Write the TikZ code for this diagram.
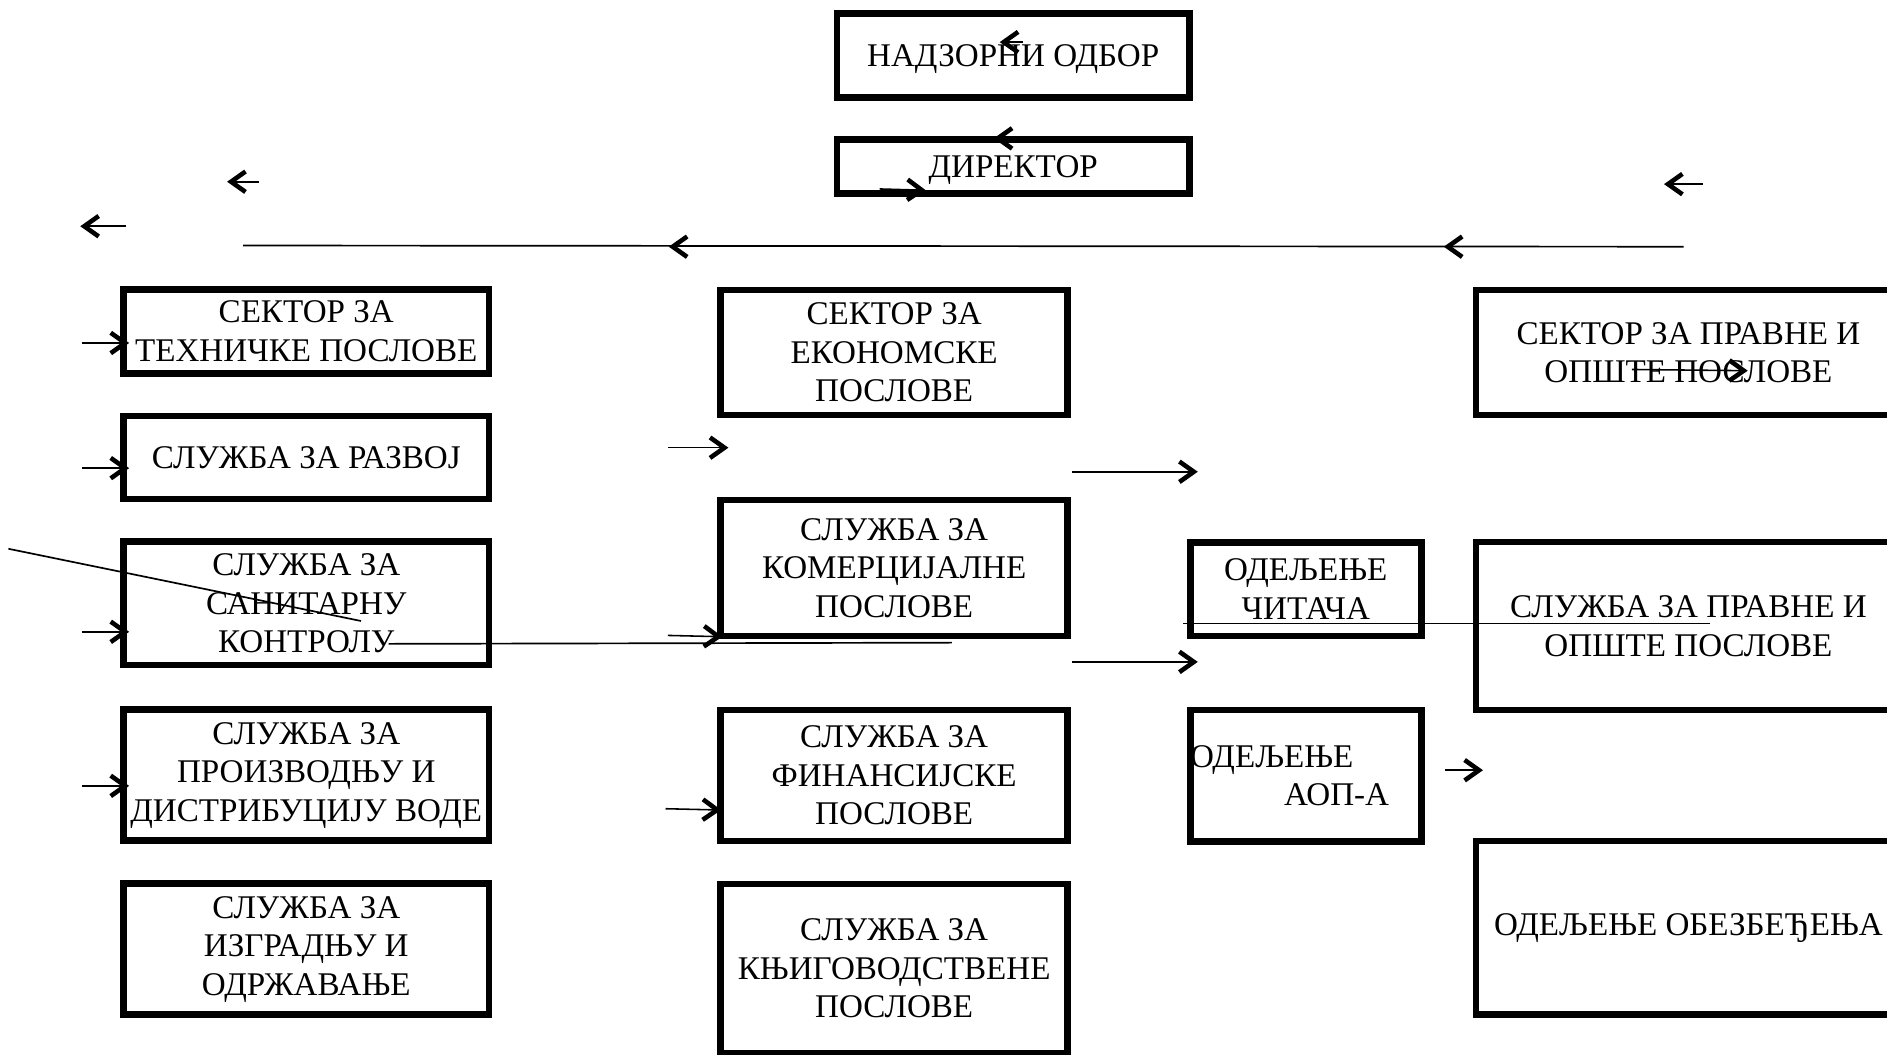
\documentclass[tikz,border=0pt]{standalone}
\usepackage{fontspec}
\setmainfont{Liberation Serif}
\usetikzlibrary{positioning}

\begin{document}
\begin{tikzpicture}[
		x=1pt, y=-1pt,
		node distance=30pt,
		every node/.style={font=\fontsize{27.5}{32}\selectfont},
		unit/.style={rectangle, draw, line width=5.5pt, align=center, inner sep=0pt},
		leftunit/.style={unit, minimum width=303.5pt},
		midunit/.style={unit, minimum width=288.5pt},
		deptunit/.style={unit, minimum width=192pt},
		rightunit/.style={unit, minimum width=353pt},
		barb/.pic={\draw[line width=3.8pt] (-12pt,8.5pt) -- (0pt,0pt) -- (-12pt,-8.5pt);},
		tip/.style={pos=1, sloped, allow upside down},
		link/.style={line width=1.4pt},
		pointer/.style={line width=1.3pt}
		]
		
		\path[use as bounding box] (0,0) rectangle (1568,876);
		\clip (0,0) rectangle (1568,876);
		
		% Management
		\node[unit, minimum width=293pt, minimum height=70pt, text depth=0pt] (board) at (841.9,46.1) {НАДЗОРНИ ОДБОР};
		\node[unit, minimum width=293pt, minimum height=45pt, text depth=0pt, below=29.2pt of board] (director) {ДИРЕКТОР};
		
		% Technical sector
		\node[leftunit, minimum height=69.5pt] (tech) at (254.5,275.4) {СЕКТОР ЗА\\ТЕХНИЧКЕ ПОСЛОВЕ};
		\node[leftunit, minimum height=69pt, below=of tech] (develop) {СЛУЖБА ЗА РАЗВОЈ};
		\node[leftunit, minimum height=102.5pt, below=of develop] (sanitary) {СЛУЖБА ЗА\\САНИТАРНУ\\КОНТРОЛУ};
		\node[leftunit, minimum height=109pt, below=31.5pt of sanitary] (water) {СЛУЖБА ЗА\\ПРОИЗВОДЊУ И\\ДИСТРИБУЦИЈУ ВОДЕ};
		\node[leftunit, minimum height=109pt, below=of water] (build) {СЛУЖБА ЗА\\ИЗГРАДЊУ И\\ОДРЖАВАЊЕ};
		
		% Economic sector
		\node[midunit, minimum height=104pt] (econ) at (743,292.9) {СЕКТОР ЗА\\ЕКОНОМСКЕ\\ПОСЛОВЕ};
		\node[midunit, minimum height=113pt, below=65pt of econ] (trade) {СЛУЖБА ЗА\\КОМЕРЦИЈАЛНЕ\\ПОСЛОВЕ};
		\node[midunit, minimum height=109pt, below=56pt of trade] (finance) {СЛУЖБА ЗА\\ФИНАНСИЈСКЕ\\ПОСЛОВЕ};
		\node[midunit, minimum height=141pt, below=of finance] (account) {СЛУЖБА ЗА\\КЊИГОВОДСТВЕНЕ\\ПОСЛОВЕ};
		
		% Departments
		\node[deptunit, minimum height=78pt] (readers) at (1085,489.6) {ОДЕЉЕЊЕ\\ЧИТАЧА};
		\node[deptunit, minimum height=109pt, below=56pt of readers, align=left, text width=192pt] (aop) {ОДЕЉЕЊЕ\\\hspace*{78pt}АОП-А};
		
		% Legal sector
		\node[rightunit, minimum height=104pt] (legal) at (1403,292.9) {СЕКТОР ЗА ПРАВНЕ И\\ОПШТЕ ПОСЛОВЕ};
		\node[rightunit, minimum height=139.5pt, below=100pt of legal] (legalsvc) {СЛУЖБА ЗА ПРАВНЕ И\\ОПШТЕ ПОСЛОВЕ};
		\node[rightunit, minimum height=144pt, below=103.5pt of legalsvc] (security) {ОДЕЉЕЊЕ ОБЕЗБЕЂЕЊА};
		
		% Loose arrow ends
		\coordinate (boardT) at (850,35);   \coordinate (boardH) at (834,35);
		\coordinate (dirT) at (845,115);    \coordinate (dirH) at (829,115);
		\coordinate (dirlT) at (731,157);   \coordinate (dirlH) at (766,158);
		\coordinate (nwT) at (215,151);     \coordinate (nwH) at (192,151);
		\coordinate (farT) at (105,188);    \coordinate (farH) at (70,188);
		\coordinate (neT) at (1415,153);    \coordinate (neH) at (1386,153);
		\coordinate (busE) at (1399,205);   \coordinate (busW) at (202,204);
		\coordinate (busaT) at (600,205);   \coordinate (busaH) at (559,205);
		\coordinate (busbT) at (1226,205);  \coordinate (busbH) at (1203,205);
		\coordinate (techT) at (68,285);    \coordinate (techH) at (104,285);
		\coordinate (devT) at (68,389);     \coordinate (devH) at (104,389);
		\coordinate (sanT) at (68,525);     \coordinate (sanH) at (104,525);
		\coordinate (watT) at (68,653);     \coordinate (watH) at (104,653);
		\coordinate (trdT) at (555,372);    \coordinate (trdH) at (602,372);
		\coordinate (comT) at (555,528);    \coordinate (comH) at (597,529);
		\coordinate (finT) at (553,672);    \coordinate (finH) at (596,673);
		\coordinate (rdT) at (891,392);     \coordinate (rdH) at (992,392);
		\coordinate (aoT) at (891,550);     \coordinate (aoH) at (992,550);
		\coordinate (lgT) at (1201,640);    \coordinate (lgH) at (1229,640);
		\coordinate (inT) at (1356,307);    \coordinate (inH) at (1449,308);
		\coordinate (diagA) at (7,456);     \coordinate (diagB) at (300,516);
		\coordinate (lowA) at (323,535);    \coordinate (lowB) at (791,534);
		\coordinate (midA) at (983,518);    \coordinate (midB) at (1421,518);
		
		% Lines
		\draw[link] (busE) -- (busW);
		\draw[link] (diagA) -- (diagB);
		\draw[link] (lowA) -- (lowB);
		\draw[link] (midA) -- (midB);
		
		% Arrows
		\draw[pointer] (boardT) -- (boardH) pic[tip] {barb};
		\draw[pointer] (dirT) -- (dirH) pic[tip] {barb};
		\draw[pointer] (dirlT) -- (dirlH) pic[tip] {barb};
		\draw[pointer] (nwT) -- (nwH) pic[tip] {barb};
		\draw[pointer] (farT) -- (farH) pic[tip] {barb};
		\draw[pointer] (neT) -- (neH) pic[tip] {barb};
		\draw[pointer] (busaT) -- (busaH) pic[tip] {barb};
		\draw[pointer] (busbT) -- (busbH) pic[tip] {barb};
		\draw[pointer] (techT) -- (techH) pic[tip] {barb};
		\draw[pointer] (devT) -- (devH) pic[tip] {barb};
		\draw[pointer] (sanT) -- (sanH) pic[tip] {barb};
		\draw[pointer] (watT) -- (watH) pic[tip] {barb};
		\draw[pointer] (trdT) -- (trdH) pic[tip] {barb};
		\draw[pointer] (comT) -- (comH) pic[tip] {barb};
		\draw[pointer] (finT) -- (finH) pic[tip] {barb};
		\draw[pointer] (rdT) -- (rdH) pic[tip] {barb};
		\draw[pointer] (aoT) -- (aoH) pic[tip] {barb};
		\draw[pointer] (lgT) -- (lgH) pic[tip] {barb};
		\draw[pointer] (inT) -- (inH) pic[tip] {barb};
		
	\end{tikzpicture}
\end{document}
